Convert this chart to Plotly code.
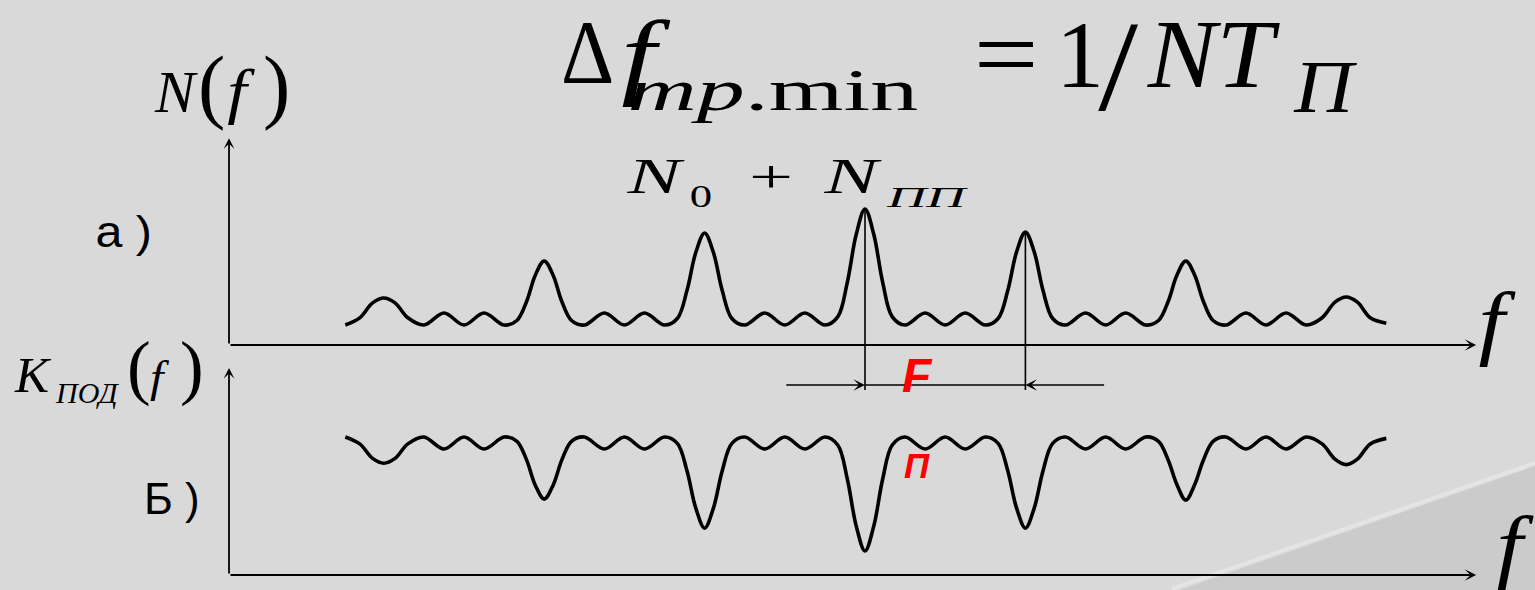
import plotly.graph_objects as go

W, H = 1535, 590

# ---------------- data ----------------
# frequency in units of the line spacing F (0 = central line)
freq = [-3.24, -3.15, -3.07, -3.0, -2.93, -2.85, -2.75, -2.625, -2.5, -2.375, -2.25,
        -2.17, -2.11, -2.055, -2.0, -1.945, -1.89, -1.83, -1.75, -1.625, -1.5, -1.375, -1.25,
        -1.17, -1.11, -1.055, -1.0, -0.945, -0.89, -0.83, -0.75, -0.625, -0.5, -0.375, -0.25,
        -0.17, -0.11, -0.055, 0.0, 0.055, 0.11, 0.17, 0.25, 0.375, 0.5, 0.625, 0.75,
        0.83, 0.89, 0.945, 1.0, 1.055, 1.11, 1.17, 1.25, 1.375, 1.5, 1.625, 1.75,
        1.83, 1.89, 1.945, 2.0, 2.055, 2.11, 2.17, 2.25, 2.375, 2.5, 2.625, 2.75,
        2.85, 2.93, 3.0, 3.07, 3.15, 3.25]

# a) spectrum N(f)
n_vals = [0.147, 0.20, 0.31, 0.346, 0.31, 0.20, 0.147, 0.235, 0.147, 0.235, 0.147,
          0.18, 0.32, 0.515, 0.618, 0.515, 0.32, 0.18, 0.147, 0.235, 0.147, 0.235, 0.147,
          0.195, 0.40, 0.68, 0.824, 0.68, 0.40, 0.195, 0.147, 0.235, 0.147, 0.235, 0.147,
          0.207, 0.463, 0.812, 1.0, 0.812, 0.463, 0.207, 0.147, 0.235, 0.147, 0.235, 0.147,
          0.195, 0.40, 0.685, 0.83, 0.685, 0.40, 0.195, 0.147, 0.235, 0.147, 0.235, 0.147,
          0.18, 0.32, 0.515, 0.618, 0.515, 0.32, 0.18, 0.147, 0.235, 0.147, 0.235, 0.147,
          0.20, 0.315, 0.353, 0.315, 0.20, 0.16]

# b) suppression filter K_ПОД(f)
k_vals = [1.0, 0.95, 0.845, 0.81, 0.845, 0.95, 1.0, 0.913, 1.0, 0.913, 1.0,
          0.969, 0.834, 0.649, 0.55, 0.649, 0.834, 0.969, 1.0, 0.913, 1.0, 0.913, 1.0,
          0.954, 0.756, 0.485, 0.34, 0.485, 0.756, 0.954, 1.0, 0.913, 1.0, 0.913, 1.0,
          0.942, 0.694, 0.356, 0.174, 0.356, 0.694, 0.942, 1.0, 0.913, 1.0, 0.913, 1.0,
          0.954, 0.756, 0.485, 0.34, 0.485, 0.756, 0.954, 1.0, 0.913, 1.0, 0.913, 1.0,
          0.969, 0.834, 0.654, 0.543, 0.654, 0.834, 0.969, 1.0, 0.913, 1.0, 0.913, 1.0,
          0.95, 0.84, 0.80, 0.84, 0.95, 0.99]

# marked spectral lines (F spacing)
marked_f = [0.0, 1.0]
marked_top = [1.0, 0.83]

# ---------------- layout geometry ----------------
X0_PX, PX_PER_F = 865.0, 160.4
N0_PX, PX_PER_N = 345.0, 136.0
K0_PX, PX_PER_K = 575.0, 138.0

x_range = [(0 - X0_PX) / PX_PER_F, (W - X0_PX) / PX_PER_F]
yN_range = [(N0_PX - H) / PX_PER_N, N0_PX / PX_PER_N]
yK_range = [(K0_PX - H) / PX_PER_K, K0_PX / PX_PER_K]

axis_origin_f = -3.965
axis_tip_f = 3.81
n_axis_tip = 1.52
k_axis_tip = 1.50
dim_y = -0.294
dim_left, dim_right = -0.5, 1.5
guide_bottom = -0.331

SERIF = "Liberation Serif, Times New Roman, serif"
SANS = "Liberation Sans, Arial, sans-serif"
BG = "#d9d9d9"

fig = go.Figure()
fig.add_trace(go.Scatter(x=freq, y=n_vals, mode="lines", yaxis="y",
                         line=dict(color="black", width=3.6, shape="spline", smoothing=1.0),
                         hoverinfo="skip", showlegend=False))
fig.add_trace(go.Scatter(x=freq, y=k_vals, mode="lines", yaxis="y2",
                         line=dict(color="black", width=3.6, shape="spline", smoothing=1.0),
                         hoverinfo="skip", showlegend=False))

shapes = []
# slide background decoration (lower right)
shapes.append(dict(type="path", xref="paper", yref="paper", layer="below",
                   path="M %f,0 L 1,%f L 1,0 Z" % (1180 / W, 1 - 466 / H),
                   fillcolor="#cbcbcb", line=dict(width=0)))
shapes.append(dict(type="line", xref="paper", yref="paper", layer="below",
                   x0=1172 / W, y0=1 - 589 / H, x1=1, y1=1 - 463 / H,
                   line=dict(color="#e4e4e4", width=4)))
# vertical guide lines from marked peaks
for f, top in zip(marked_f, marked_top):
    shapes.append(dict(type="line", xref="x", yref="y", x0=f, x1=f, y0=guide_bottom, y1=top,
                       line=dict(color="black", width=1.6)))
# dimension line between the two marked lines
shapes.append(dict(type="line", xref="x", yref="y", x0=marked_f[0], x1=marked_f[1],
                   y0=dim_y, y1=dim_y, line=dict(color="black", width=1.5)))

# ---------------- texts ----------------
# (text, x_center_px, baseline_px, size, family, color, horizontal stretch)
pieces = [
    ("Δ", 587, 83, 92, SERIF, "black", 0.9),
    ("<i>f</i>", 646, 87, 96, SERIF, "black", 1.3),
    ("<i>mp</i>.min", 773, 110, 60, SERIF, "black", 1.6),
    ("=", 1006, 89, 100, SERIF, "black", 1.15),
    ("1", 1080, 87, 96, SERIF, "black", 1.0),
    ("/", 1118, 110, 130, SERIF, "black", 1.1),
    ("<i>NT</i>", 1213, 87, 98, SERIF, "black", 1.05),
    ("<i>П</i>", 1325, 112, 74, SERIF, "black", 1.1),
    ("<i>N</i>", 655, 193, 50, SERIF, "black", 1.6),
    ("0", 701, 207, 32, SERIF, "black", 1.4),
    ("+", 771, 192, 46, SERIF, "black", 1.7),
    ("<i>N</i>", 852, 193, 50, SERIF, "black", 1.6),
    ("<i>ПП</i>", 928, 207, 30, SERIF, "black", 1.8),
    ("<i>N</i>", 176, 112, 60, SERIF, "black", 1.0),
    ("(", 211, 113, 82, SERIF, "black", 1.0),
    ("<i>f</i>", 241, 112, 61, SERIF, "black", 1.15),
    (")", 276, 113, 82, SERIF, "black", 1.0),
    ("<i>K</i>", 33, 392, 51, SERIF, "black", 1.0),
    ("<i>ПОД</i>", 87, 403, 30, SERIF, "black", 1.0),
    ("(", 139, 392, 71, SERIF, "black", 1.0),
    ("<i>f</i>", 160, 392, 44, SERIF, "black", 1.1),
    (")", 192, 392, 71, SERIF, "black", 1.0),
    ("а )", 123, 246, 44, SANS, "black", 1.1),
    ("Б )", 172, 513, 44, SANS, "black", 1.0),
    ("<b><i>F</i></b>", 917, 392, 48, SANS, "#ff0000", 1.0),
    ("<b><i>П</i></b>", 917, 477, 35, SANS, "#ff0000", 1.0),
    ("<i>f</i>", 1497, 349, 82, SERIF, "black", 1.15),
    ("<i>f</i>", 1515, 573, 82, SERIF, "black", 1.15),
]

annotations = []
stretch = {}
for i, (txt, xc, base, size, fam, col, sx) in enumerate(pieces):
    annotations.append(dict(text=txt, xref="paper", yref="paper",
                            x=xc / W, y=1 - (base - 0.34 * size) / H,
                            xanchor="center", yanchor="middle", showarrow=False,
                            font=dict(family=fam, size=size, color=col)))
    if abs(sx - 1.0) > 1e-6:
        stretch[str(i)] = sx

def arrow(x, y, ax, ay, yref, width, size):
    return dict(text="", x=x, y=y, ax=ax, ay=ay, xref="x", yref=yref,
                axref="x", ayref=yref, showarrow=True, arrowhead=3,
                arrowsize=size, arrowwidth=width, arrowcolor="black", standoff=0)

annotations += [
    arrow(axis_origin_f, n_axis_tip, axis_origin_f, 0, "y", 1.8, 1.0),
    arrow(axis_tip_f, 0, axis_origin_f, 0, "y", 2.0, 0.95),
    arrow(axis_origin_f, k_axis_tip, axis_origin_f, 0, "y2", 1.8, 1.0),
    arrow(axis_tip_f, 0, axis_origin_f, 0, "y2", 2.0, 0.95),
    arrow(marked_f[0], dim_y, dim_left, dim_y, "y", 1.5, 1.3),
    arrow(marked_f[1], dim_y, dim_right, dim_y, "y", 1.5, 1.3),
]

fig.update_layout(
    width=W, height=H, autosize=False,
    margin=dict(l=0, r=0, t=0, b=0, pad=0),
    paper_bgcolor=BG, plot_bgcolor=BG,
    xaxis=dict(range=x_range, visible=False, fixedrange=True),
    yaxis=dict(range=yN_range, visible=False, fixedrange=True),
    yaxis2=dict(range=yK_range, visible=False, overlaying="y", fixedrange=True),
    shapes=shapes, annotations=annotations, showlegend=False,
)

sx_js = "{" + ",".join("'%s':%s" % (k, v) for k, v in stretch.items()) + "}"
post = """
var gd = document.getElementById('{plot_id}');
document.body.style.margin = '0';
document.body.style.overflow = 'hidden';
var SX = %s;
function stretchText(){
  gd.querySelectorAll('g.annotation').forEach(function(g){
    var idx = g.getAttribute('data-index');
    if (!(idx in SX)) return;
    var t = g.querySelector('text.annotation-text');
    if (!t || t.getAttribute('data-sx')) return;
    var b = t.getBBox();
    var cx = b.x + b.width/2, cy = b.y + b.height/2;
    var prev = t.getAttribute('transform') || '';
    t.setAttribute('transform', prev + ' translate(' + cx + ',' + cy + ') scale(' + SX[idx] + ',1) translate(' + (-cx) + ',' + (-cy) + ')');
    t.setAttribute('data-sx', '1');
  });
}
stretchText();
setTimeout(stretchText, 30);
if (gd.on) { gd.on('plotly_afterplot', stretchText); }
""" % sx_js

fig.write_html("out.html", config={"displayModeBar": False, "staticPlot": True},
               post_script=post)
